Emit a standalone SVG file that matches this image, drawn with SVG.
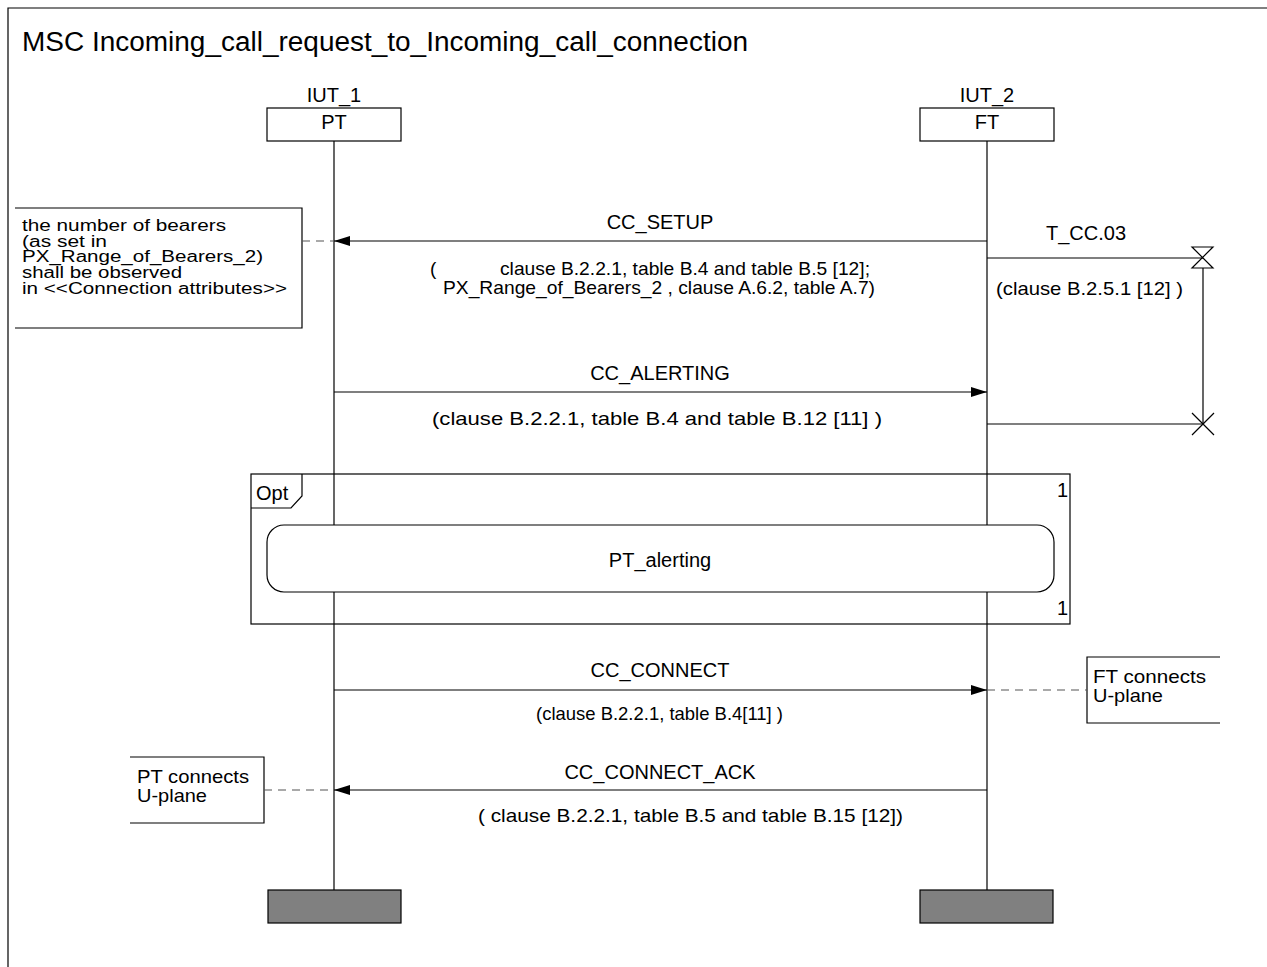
<svg xmlns="http://www.w3.org/2000/svg" width="1267" height="967" viewBox="0 0 1267 967">
<defs>
<style>
text{font-family:"Liberation Sans",Arial,sans-serif;font-size:19px;fill:#000}
.t{font-size:27px}
.lb{font-size:20px}
.n{font-size:16px}
.m{text-anchor:middle}
.ln{stroke:#000;stroke-width:1.2;fill:none}
.dash{stroke:#555;stroke-width:1.2;stroke-dasharray:8 6;fill:none}
.box{fill:#fff;stroke:#000;stroke-width:1.2}
.bar{fill:#808080;stroke:#000;stroke-width:1.2}
</style>
<marker id="ah" viewBox="0 0 16 10" refX="16" refY="5" markerWidth="16" markerHeight="10" markerUnits="userSpaceOnUse" orient="auto">
<path d="M0,0 L16,5 L0,10 Z" fill="#000"/>
</marker>
</defs>
<rect width="1267" height="967" fill="#fff"/>
<g id="frame">
<path class="ln" d="M8,967 L8,8 L1267,8" stroke-width="1.5"/>
<text class="t" x="22" y="51" textLength="726" lengthAdjust="spacingAndGlyphs">MSC Incoming_call_request_to_Incoming_call_connection</text>
</g>
<g id="lifelines">
<line class="ln" x1="334" y1="141" x2="334" y2="890"/>
<line class="ln" x1="987" y1="141" x2="987" y2="890"/>
</g>
<g id="opt">
<rect class="ln" x="251" y="474" width="819" height="150"/>
<path class="ln" d="M251,508 L291,508 L302,496 L302,474"/>
<text class="lb" x="256" y="500">Opt</text>
<text class="lb" x="1057" y="497">1</text>
<text class="lb" x="1057" y="615">1</text>
</g>
<g id="PT_alerting">
<rect class="box" x="267" y="525" width="787" height="67" rx="17" ry="17"/>
<text class="lb m" x="660" y="567">PT_alerting</text>
</g>
<g id="IUT_1">
<text class="lb m" x="334" y="102">IUT_1</text>
<rect class="box" x="267" y="108" width="134" height="33"/>
<text class="lb m" x="334" y="129">PT</text>
<rect class="bar" x="268" y="890" width="133" height="33"/>
</g>
<g id="IUT_2">
<text class="lb m" x="987" y="102">IUT_2</text>
<rect class="box" x="920" y="108" width="134" height="33"/>
<text class="lb m" x="987" y="129">FT</text>
<rect class="bar" x="920" y="890" width="133" height="33"/>
</g>
<g id="note_bearers">
<path class="ln" d="M15,208 L302,208 L302,328 L15,328"/>
<text class="n" x="22" y="231" textLength="204" lengthAdjust="spacingAndGlyphs">the number of bearers</text>
<text class="n" x="22" y="247" textLength="85" lengthAdjust="spacingAndGlyphs">(as set in</text>
<text class="n" x="22" y="262" textLength="241" lengthAdjust="spacingAndGlyphs">PX_Range_of_Bearers_2)</text>
<text class="n" x="22" y="278" textLength="160" lengthAdjust="spacingAndGlyphs">shall be observed</text>
<text class="n" x="22" y="294" textLength="265" lengthAdjust="spacingAndGlyphs">in &lt;&lt;Connection attributes&gt;&gt;</text>
</g>
<g id="note_ft">
<path class="ln" d="M1220,657 L1087,657 L1087,723 L1220,723"/>
<text x="1093" y="683" textLength="113" lengthAdjust="spacingAndGlyphs">FT connects</text>
<text x="1093" y="702" textLength="70" lengthAdjust="spacingAndGlyphs">U-plane</text>
</g>
<g id="note_pt">
<path class="ln" d="M130,757 L264,757 L264,823 L130,823"/>
<text x="137" y="783" textLength="112" lengthAdjust="spacingAndGlyphs">PT connects</text>
<text x="137" y="802" textLength="70" lengthAdjust="spacingAndGlyphs">U-plane</text>
</g>
<g id="timer">
<line class="ln" x1="987" y1="258" x2="1203" y2="258"/>
<path class="ln" d="M1192,247 L1213,247 L1192,268 L1213,268 Z"/>
<line class="ln" x1="1203" y1="268" x2="1203" y2="424"/>
<line class="ln" x1="987" y1="424" x2="1203" y2="424"/>
<path class="ln" d="M1192,413 L1214,435 M1192,435 L1214,413"/>
<text class="lb m" x="1086" y="240">T_CC.03</text>
<text x="996" y="295" textLength="187" lengthAdjust="spacingAndGlyphs">(clause B.2.5.1 [12] )</text>
</g>
<g id="connectors">
<line class="ln" x1="987" y1="241" x2="334" y2="241" marker-end="url(#ah)"/>
<text class="lb m" x="660" y="229">CC_SETUP</text>
<text><tspan x="430" y="275">(</tspan><tspan x="500" y="275" textLength="370" lengthAdjust="spacingAndGlyphs">clause B.2.2.1, table B.4 and table B.5 [12];</tspan></text>
<text x="443" y="294" textLength="432" lengthAdjust="spacingAndGlyphs">PX_Range_of_Bearers_2 , clause A.6.2, table A.7)</text>
<line class="dash" x1="302" y1="241" x2="334" y2="241"/>
<line class="ln" x1="334" y1="392" x2="987" y2="392" marker-end="url(#ah)"/>
<text class="lb m" x="660" y="380">CC_ALERTING</text>
<text x="432" y="425" textLength="450" lengthAdjust="spacingAndGlyphs">(clause B.2.2.1, table B.4 and table B.12 [11] )</text>
<line class="ln" x1="334" y1="690" x2="987" y2="690" marker-end="url(#ah)"/>
<text class="lb m" x="660" y="677">CC_CONNECT</text>
<text x="536" y="720" textLength="247" lengthAdjust="spacingAndGlyphs">(clause B.2.2.1, table B.4[11] )</text>
<line class="dash" x1="987" y1="690" x2="1087" y2="690"/>
<line class="ln" x1="987" y1="790" x2="334" y2="790" marker-end="url(#ah)"/>
<text class="lb m" x="660" y="779">CC_CONNECT_ACK</text>
<text x="478" y="822" textLength="425" lengthAdjust="spacingAndGlyphs">( clause B.2.2.1, table B.5 and table B.15 [12])</text>
<line class="dash" x1="264" y1="790" x2="334" y2="790"/>
</g>
</svg>
